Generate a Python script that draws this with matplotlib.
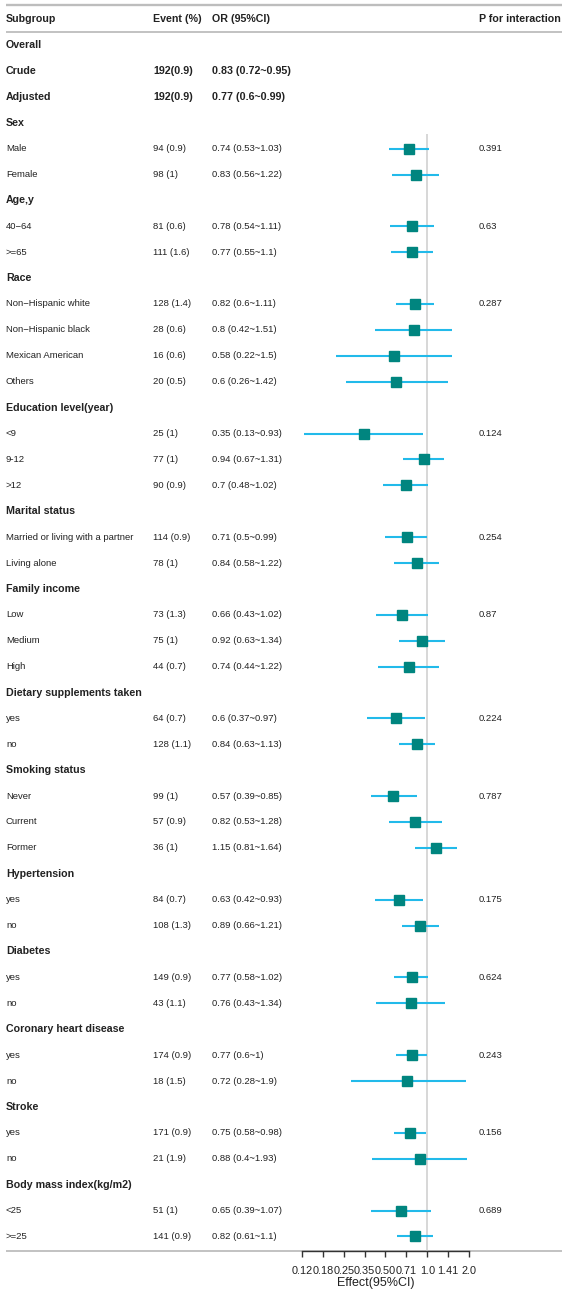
import numpy as np
import matplotlib
matplotlib.use("Agg")
import matplotlib.pyplot as plt
import matplotlib.transforms as mtransforms
from matplotlib.ticker import NullLocator

plt.rcParams['font.family'] = ['Liberation Sans', 'DejaVu Sans']

# ---- data ----
labels = [
    "Overall", "Crude", "Adjusted",
    "Sex", "Male", "Female",
    "Age,y", "40\u221264", ">=65",
    "Race", "Non\u2212Hispanic white", "Non\u2212Hispanic black", "Mexican American", "Others",
    "Education level(year)", "<9", "9-12", ">12",
    "Marital status", "Married or living with a partner", "Living alone",
    "Family income", "Low", "Medium", "High",
    "Dietary supplements taken", "yes", "no",
    "Smoking status", "Never", "Current", "Former",
    "Hypertension", "yes", "no",
    "Diabetes", "yes", "no",
    "Coronary heart disease", "yes", "no",
    "Stroke", "yes", "no",
    "Body mass index(kg/m2)", "<25", ">=25",
]
# h = group header, o = overall row (bold, no marker), s = subgroup row
row_kind = [
    "h", "o", "o",
    "h", "s", "s",
    "h", "s", "s",
    "h", "s", "s", "s", "s",
    "h", "s", "s", "s",
    "h", "s", "s",
    "h", "s", "s", "s",
    "h", "s", "s",
    "h", "s", "s", "s",
    "h", "s", "s",
    "h", "s", "s",
    "h", "s", "s",
    "h", "s", "s",
    "h", "s", "s",
]
events = [
    "", "192(0.9)", "192(0.9)",
    "", "94 (0.9)", "98 (1)",
    "", "81 (0.6)", "111 (1.6)",
    "", "128 (1.4)", "28 (0.6)", "16 (0.6)", "20 (0.5)",
    "", "25 (1)", "77 (1)", "90 (0.9)",
    "", "114 (0.9)", "78 (1)",
    "", "73 (1.3)", "75 (1)", "44 (0.7)",
    "", "64 (0.7)", "128 (1.1)",
    "", "99 (1)", "57 (0.9)", "36 (1)",
    "", "84 (0.7)", "108 (1.3)",
    "", "149 (0.9)", "43 (1.1)",
    "", "174 (0.9)", "18 (1.5)",
    "", "171 (0.9)", "21 (1.9)",
    "", "51 (1)", "141 (0.9)",
]
nan = np.nan
or_est = [
    nan, 0.83, 0.77,
    nan, 0.74, 0.83,
    nan, 0.78, 0.77,
    nan, 0.82, 0.80, 0.58, 0.60,
    nan, 0.35, 0.94, 0.70,
    nan, 0.71, 0.84,
    nan, 0.66, 0.92, 0.74,
    nan, 0.60, 0.84,
    nan, 0.57, 0.82, 1.15,
    nan, 0.63, 0.89,
    nan, 0.77, 0.76,
    nan, 0.77, 0.72,
    nan, 0.75, 0.88,
    nan, 0.65, 0.82,
]
ci_lo = [
    nan, 0.72, 0.60,
    nan, 0.53, 0.56,
    nan, 0.54, 0.55,
    nan, 0.60, 0.42, 0.22, 0.26,
    nan, 0.13, 0.67, 0.48,
    nan, 0.50, 0.58,
    nan, 0.43, 0.63, 0.44,
    nan, 0.37, 0.63,
    nan, 0.39, 0.53, 0.81,
    nan, 0.42, 0.66,
    nan, 0.58, 0.43,
    nan, 0.60, 0.28,
    nan, 0.58, 0.40,
    nan, 0.39, 0.61,
]
ci_hi = [
    nan, 0.95, 0.99,
    nan, 1.03, 1.22,
    nan, 1.11, 1.10,
    nan, 1.11, 1.51, 1.50, 1.42,
    nan, 0.93, 1.31, 1.02,
    nan, 0.99, 1.22,
    nan, 1.02, 1.34, 1.22,
    nan, 0.97, 1.13,
    nan, 0.85, 1.28, 1.64,
    nan, 0.93, 1.21,
    nan, 1.02, 1.34,
    nan, 1.00, 1.90,
    nan, 0.98, 1.93,
    nan, 1.07, 1.10,
]
p_inter = [
    "", "", "",
    "", "0.391", "",
    "", "0.63", "",
    "", "0.287", "", "", "",
    "", "0.124", "", "",
    "", "0.254", "",
    "", "0.87", "", "",
    "", "0.224", "",
    "", "0.787", "", "",
    "", "0.175", "",
    "", "0.624", "",
    "", "0.243", "",
    "", "0.156", "",
    "", "0.689", "",
]
tick_vals = [0.125, 0.177, 0.25, 0.354, 0.5, 0.707, 1.0, 1.414, 2.0]
tick_labels = ["0.12", "0.18", "0.25", "0.35", "0.50", "0.71", "1.0", "1.41", "2.0"]


def fmt(v):
    return f"{v:g}"


# ---- layout ----
W, H = 567, 1294
ROW0, STEP = 45.0, 25.9          # pixel y of first row, row pitch
AXIS_Y = 1251.0                  # pixel y of the effect axis


def prow(p):
    return (p - ROW0) / STEP


FS = 6.8      # body text
FSB = 7.7     # bold headers
TXT = "#222222"
RULE = "#BDBDBD"
LINE_C = "#22BAEA"
BOX_C = "#00857F"
X_SUB, X_EV, X_OR, X_P = 6, 153, 212, 479

fig = plt.figure(figsize=(W / 100, H / 100), dpi=100)
ax = fig.add_axes([302 / W, (H - AXIS_Y) / H, 167 / W, AXIS_Y / H])
ax.set_xscale('log', base=2)
ax.set_xlim(tick_vals[0], tick_vals[-1])
ax.set_ylim(prow(AXIS_Y), prow(0))

trans = mtransforms.blended_transform_factory(fig.transFigure, ax.transData)

# horizontal rules
for yy, lw in [(prow(5), 1.7), (prow(32), 1.3), (prow(AXIS_Y), 1.3)]:
    ax.plot([6 / W, 562 / W], [yy, yy], transform=trans, color=RULE,
            lw=lw, clip_on=False, zorder=0, solid_capstyle='butt')

# column headers
hy = -1
for xx, txt in [(X_SUB, "Subgroup"), (X_EV, "Event (%)"), (X_OR, "OR (95%CI)"),
                (X_P, "P for interaction")]:
    ax.text(xx / W, hy, txt, transform=trans, fontsize=FSB, fontweight='bold',
            color=TXT, va='center', ha='left')

# reference line at 1
ax.vlines(1.0, 3.45, prow(AXIS_Y), color="#D4D4D4", lw=1.3, zorder=1)

ys = np.arange(len(labels))
for y, lab, kind, ev, o, lo, hi, p in zip(ys, labels, row_kind, events, or_est,
                                          ci_lo, ci_hi, p_inter):
    bold = kind in ("h", "o")
    fs = FSB if bold else FS
    fw = 'bold' if bold else 'normal'
    ax.text(X_SUB / W, y, lab, transform=trans, fontsize=fs, fontweight=fw,
            color=TXT, va='center', ha='left')
    if kind == "h":
        continue
    ax.text(X_EV / W, y, ev, transform=trans, fontsize=fs, fontweight=fw,
            color=TXT, va='center', ha='left')
    ax.text(X_OR / W, y, f"{fmt(o)} ({fmt(lo)}~{fmt(hi)})", transform=trans,
            fontsize=fs, fontweight=fw, color=TXT, va='center', ha='left')
    if p:
        ax.text(X_P / W, y, p, transform=trans, fontsize=FS, color=TXT,
                va='center', ha='left')
    if kind == "s":
        ax.hlines(y, lo, hi, color=LINE_C, lw=1.5, zorder=2, clip_on=False)
        ax.plot(o, y, 's', ms=6.8, color=BOX_C, mec=BOX_C, zorder=3, clip_on=False)

# effect axis
for side in ("left", "right", "top"):
    ax.spines[side].set_visible(False)
ax.spines["bottom"].set_color("#333333")
ax.spines["bottom"].set_linewidth(1.0)
ax.set_yticks([])
ax.set_xticks(tick_vals)
ax.set_xticklabels(tick_labels)
ax.xaxis.set_minor_locator(NullLocator())
ax.tick_params(axis='x', direction='out', length=4, width=1, color="#333333",
               labelsize=7.8, labelcolor=TXT, pad=7)
ax.set_xlabel("Effect(95%CI)", fontsize=9, color=TXT)
ax.xaxis.set_label_coords((376 - 302) / 167, -(1277 - AXIS_Y) / AXIS_Y)
ax.patch.set_visible(False)

fig.savefig("out.png", dpi=100)
